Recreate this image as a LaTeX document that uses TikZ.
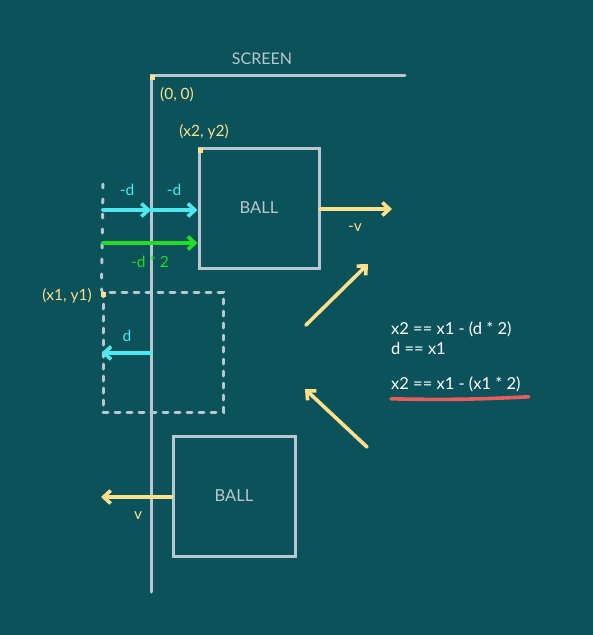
\documentclass[tikz,border=0pt]{standalone}
\usepackage{fontspec}
\setmainfont{Lato}
\usetikzlibrary{arrows.meta}
\definecolor{bg}{RGB}{11,82,91}
\definecolor{edge}{RGB}{184,199,208}
\definecolor{ylw}{RGB}{255,224,138}
\definecolor{cyn}{RGB}{77,232,240}
\definecolor{grn}{RGB}{34,221,34}
\definecolor{redl}{RGB}{232,92,92}
\tikzset{
  ballbox/.style={draw=edge, line width=3pt, minimum width=120pt, minimum height=120pt, inner sep=0pt, text=edge, font=\fontsize{16.5}{18}\selectfont},
  ghost/.style={draw=edge, line width=3pt, dash pattern=on 5pt off 7pt, line cap=round, minimum width=120pt, minimum height=120pt, inner sep=0pt},
  wall/.style={draw=edge, line width=3pt},
  arr/.style={line width=3.6pt, line cap=round, -{Straight Barb[length=7pt,width=13pt,line width=3.6pt]}},
  lbl/.style={font=\fontsize{15.5}{17}\selectfont, inner sep=0pt},
  dot/.style={fill=ylw, minimum size=5pt, inner sep=0pt},
  eq/.style={font=\fontsize{16.5}{19}\selectfont, text=white, inner sep=0pt, anchor=west},
}
\begin{document}
\begin{tikzpicture}[x=1pt,y=-1pt]
\useasboundingbox[fill=bg] (0,0) rectangle (593,635);
% screen
\coordinate (origin) at (151,75);
\coordinate (sbot) at (151,592);
\coordinate (sright) at (405,75);
\draw[wall, line cap=round] (sbot) -- (origin) -- (sright);
\node[lbl, text=edge, font=\fontsize{16}{18}\selectfont] (scr) at (262,59) {SCREEN};
\node[dot] (o) at (152,77) {};
\node[lbl, text=ylw] (o0) at (177,95) {(0, 0)};
% top ball
\node[ballbox] (b2) at (259,208) {BALL};
\node[dot] (p2) at (200,150) {};
\node[lbl, text=ylw] (p2l) at (204,132) {(x2, y2)};
% ghost box
\node[ghost] (b1) at (163,352) {};
\draw[edge, line width=3pt, dash pattern=on 4pt off 11pt, line cap=round] (103,184) -- (b1.north west);
\node[dot] (p1) at (103,294) {};
\node[lbl, text=ylw] (p1l) at (67,296) {(x1, y1)};
% cyan arrows
\coordinate (c0) at (103,210);
\coordinate (c1) at (151,210);
\draw[arr, cyn] (c0) -- (c1);
\draw[arr, cyn] (c1) -- (b2.west |- c1);
\node[lbl, text=cyn] (dl1) at (127,190) {-d};
\node[lbl, text=cyn] (dl2) at (174,190) {-d};
% green arrow
\coordinate (g0) at (103,243);
\draw[arr, grn] (g0) -- (b2.west |- g0);
\node[lbl, text=grn] (gl) at (150,262) {-d * 2};
% d arrow
\coordinate (dstart) at (151,353);
\draw[arr, cyn] (dstart) -- (b1.west |- dstart);
\node[lbl, text=cyn] (dl) at (127,336) {d};
% -v arrow
\coordinate (vend) at (392,209);
\draw[arr, ylw] (b2.east |- vend) -- (vend);
\node[lbl, text=ylw] (vl) at (355,228) {-v};
% diagonal arrows
\coordinate (u0) at (306,325);
\coordinate (u1) at (368,264);
\draw[arr, ylw] (u0) -- (u1);
\coordinate (w0) at (367,447);
\coordinate (w1) at (305,389);
\draw[arr, ylw] (w0) -- (w1);
% equations
\node[eq] (e1) at (391,329) {x2 == x1 - (d * 2)};
\node[eq] (e2) at (391,348) {d == x1};
\node[eq] (e3) at (391,384) {x2 == x1 - (x1 * 2)};
\draw[redl, line width=3.6pt, line cap=round] ([yshift=-7pt]e3.south west) to[bend right=2] ([yshift=-5pt,xshift=8pt]e3.south east);
% bottom ball
\node[ballbox, minimum width=122pt] (b0) at (234,496) {BALL};
\coordinate (vl0) at (101,497);
\draw[arr, ylw] (b0.west |- vl0) -- (vl0);
\node[lbl, text=ylw] (vlab) at (138,516) {v};
\end{tikzpicture}
\end{document}
